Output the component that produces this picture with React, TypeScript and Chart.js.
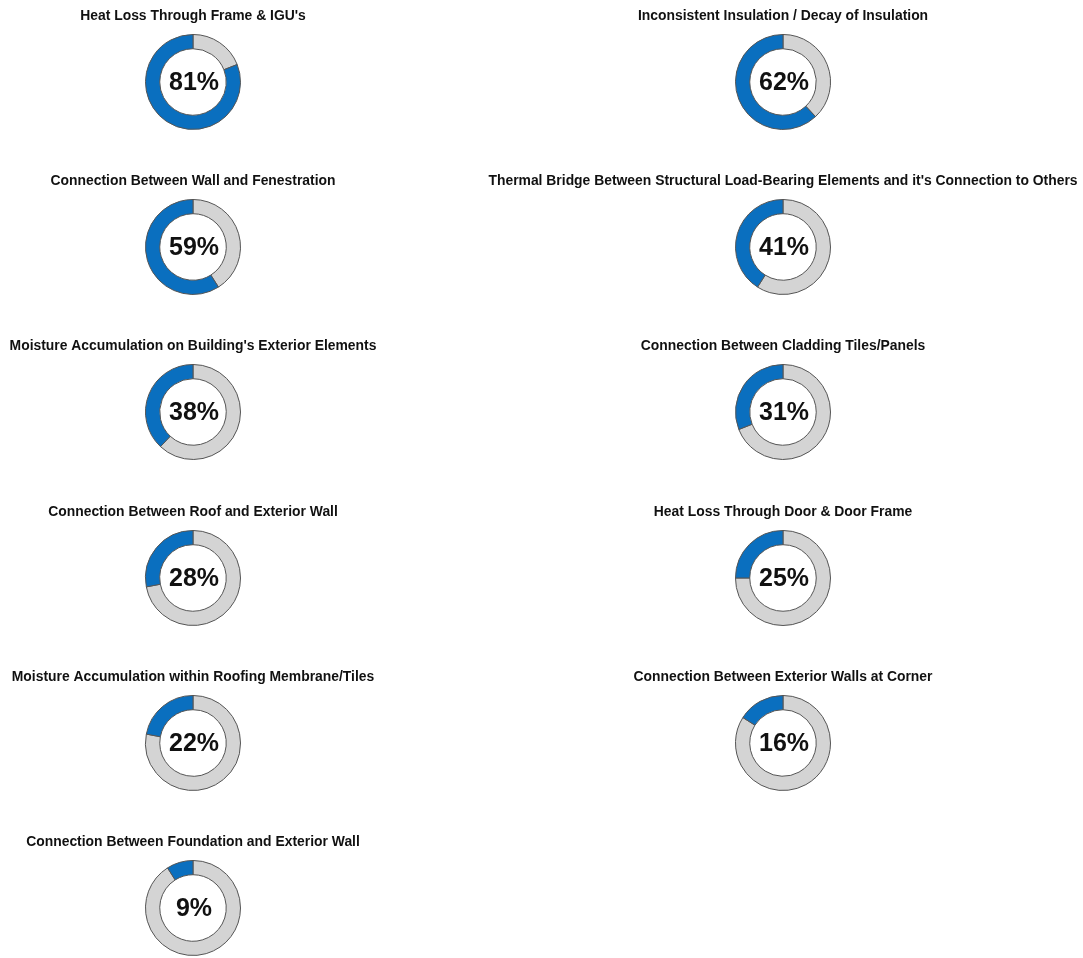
import React, { useEffect, useRef } from "react";
import { Chart, registerables } from "chart.js";

Chart.register(...registerables);

const categories: string[] = [
  "Heat Loss Through Frame & IGU's",
  "Inconsistent Insulation / Decay of Insulation",
  "Connection Between Wall and Fenestration",
  "Thermal Bridge Between Structural Load-Bearing Elements and it's Connection to Others",
  "Moisture Accumulation on Building's Exterior Elements",
  "Connection Between Cladding Tiles/Panels",
  "Connection Between Roof and Exterior Wall",
  "Heat Loss Through Door & Door Frame",
  "Moisture Accumulation within Roofing Membrane/Tiles",
  "Connection Between Exterior Walls at Corner",
  "Connection Between Foundation and Exterior Wall",
];

const percentages: number[] = [81, 62, 59, 41, 38, 31, 28, 25, 22, 16, 9];

const BLUE = "#0a6fbf";
const GRAY = "#d4d4d4";
const FONT = "'Liberation Sans', Arial, Helvetica, sans-serif";

const centerText = {
  id: "centerText",
  afterDatasetsDraw(chart: any) {
    const meta = chart.getDatasetMeta(0);
    const arc = meta.data[0];
    if (!arc) return;
    const { x, y } = arc;
    const label = chart.options.plugins.centerText?.text ?? "";
    const ctx = chart.ctx;
    ctx.save();
    ctx.font = `bold 25px ${FONT}`;
    ctx.fillStyle = "#111";
    ctx.textAlign = "center";
    ctx.textBaseline = "middle";
    ctx.fillText(label, x + 1, y + 1);
    ctx.restore();
  },
};

function Donut({ title, value, width }: { title: string; value: number; width: number }) {
  const ref = useRef<HTMLCanvasElement>(null);
  useEffect(() => {
    if (!ref.current) return;
    const chart = new Chart(ref.current, {
      type: "doughnut",
      data: {
        labels: ["Other", title],
        datasets: [
          {
            data: [100 - value, value],
            backgroundColor: [GRAY, BLUE],
            borderColor: "#555555",
            borderWidth: 1,
          },
        ],
      },
      options: {
        responsive: false,
        animation: false,
        cutout: "70%",
        layout: { padding: 0 },
        plugins: {
          legend: { display: false },
          tooltip: { enabled: false },
          title: {
            display: true,
            text: title,
            color: "#111",
            font: { family: FONT, size: 13.9, weight: "bold", lineHeight: 1.2 },
            padding: { top: 8, bottom: 9.3 },
          },
          centerText: { text: `${value}%` },
        } as any,
      },
      plugins: [centerText],
    });
    return () => chart.destroy();
  }, [title, value]);
  return <canvas ref={ref} width={width} height={130} style={{ width, height: 130, display: "block" }} />;
}

export default function App() {
  const colCenters = [193, 783];
  const colWidths = [386, 600];
  const rowStep = 165.2;
  return (
    <div style={{ position: "absolute", left: 0, top: 0, width: 1083, height: 958, background: "#fff" }}>
      {categories.map((c, i) => {
        const col = i % 2;
        const row = Math.floor(i / 2);
        const W = colWidths[col];
        return (
          <div
            key={c}
            style={{
              position: "absolute",
              left: colCenters[col] - W / 2,
              top: Math.round(row * rowStep),
              width: W,
              height: 130,
            }}
          >
            <Donut title={c} value={percentages[i]} width={W} />
          </div>
        );
      })}
    </div>
  );
}
